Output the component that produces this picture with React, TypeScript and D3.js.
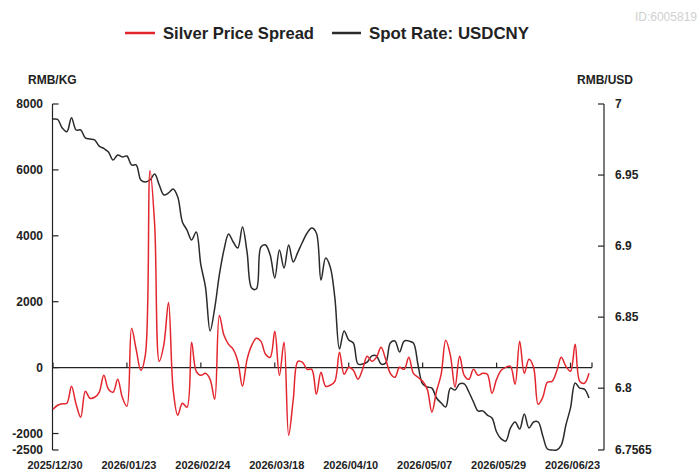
import React from "react";
import * as d3 from "d3";

const tickLabels = ["2025/12/30", "2026/01/23", "2026/02/24", "2026/03/18", "2026/04/10", "2026/05/07", "2026/05/29", "2026/06/23"];
const tickIndex = [0, 16, 32, 48, 64, 80, 96, 112];

const silverSpread = [
  -1264, -1142, -1097, -1082, -567, -1112, -1506, -718, -930, -900,
  -748, -233, -658, -748, -355, -900, -1173, 1191, 555, -82,
  403, 5978, 4342, 191, 706, 1979, -658, -1445, -1082, -1203,
  767, -112, -233, -173, -355, -960, 1585, 979, 706, 555,
  191, -567, 251, 676, 888, 797, 403, 312, 1100, -233,
  767, -2051, -960, 191, 161, -52, -52, -809, -142, -567,
  -536, -415, 464, -203, 9, -82, -355, -52, 342, 191,
  312, 615, 251, -173, -294, 9, -52, 312, -173, -294,
  -415, -658, -1354, -718, -203, 827, 373, -597, 342, -233,
  -355, -52, -233, -173, -203, -779, -355, -82, 9, 39,
  -506, 797, -173, 251, 9, -1112, -900, -445, -415, -112,
  312, 39, -112, 706, -415, -476, -173,
];

const usdcny = [
  6.9894, 6.9891, 6.9831, 6.9805, 6.9903, 6.9817, 6.9817, 6.9761, 6.9754, 6.9747,
  6.9704, 6.9687, 6.9662, 6.9606, 6.9641, 6.9627, 6.9634, 6.9571, 6.9571, 6.9465,
  6.9451, 6.9465, 6.9507, 6.943, 6.936, 6.9374, 6.9402, 6.9346, 6.917, 6.9113,
  6.9043, 6.9099, 6.8867, 6.8712, 6.8403, 6.8564, 6.8797, 6.8973, 6.9085, 6.9029,
  6.8987, 6.9134, 6.8958, 6.8705, 6.8698, 6.8994, 6.9008, 6.8937, 6.8776, 6.8973,
  6.8846, 6.9008, 6.8888, 6.8958, 6.9029, 6.9092, 6.9127, 6.9092, 6.8761, 6.8916,
  6.8853, 6.8635, 6.8276, 6.8403, 6.8339, 6.8318, 6.817, 6.817, 6.8184, 6.8227,
  6.8227, 6.817, 6.8177, 6.8318, 6.8332, 6.8255, 6.8332, 6.8332, 6.8318, 6.8163,
  6.803, 6.8008, 6.8001, 6.7931, 6.7896, 6.7868, 6.8001, 6.7987, 6.803, 6.803,
  6.7973, 6.7903, 6.784, 6.784, 6.7811, 6.779, 6.7692, 6.7643, 6.7628, 6.772,
  6.7762, 6.7713, 6.7818, 6.772, 6.7762, 6.7762, 6.7664, 6.7572, 6.7565, 6.7565,
  6.76, 6.7741, 6.7861, 6.8037, 6.8001, 6.7994, 6.7931,
];

const leftTicks = [8000, 6000, 4000, 2000, 0, -2000, -2500];
const rightTicks = [7, 6.95, 6.9, 6.85, 6.8, 6.7565];

const RED = "#e3262e";
const BLACK = "#2b2b2b";
const FONT = "'Liberation Sans', Arial, sans-serif";

export default function App() {
  const W = 700;
  const H = 471;
  const n = silverSpread.length;
  const x = d3.scaleLinear().domain([0, n - 1]).range([53, 589]);
  const yL = d3.scaleLinear().domain([-2500, 8000]).range([450, 104]);
  const yR = d3.scaleLinear().domain([6.7565, 7]).range([450, 104]);

  const redLine = d3
    .line<number>()
    .x((_, i) => x(i))
    .y((d) => yL(d))
    .curve(d3.curveCatmullRom.alpha(0.5))(silverSpread) as string;
  const blackLine = d3
    .line<number>()
    .x((_, i) => x(i))
    .y((d) => yR(d))
    .curve(d3.curveCatmullRom.alpha(0.5))(usdcny) as string;

  const zeroY = yL(0);
  const axisL = 52.5;
  const axisR = 604;
  const zeroEnd = 592;

  return (
    <svg width={W} height={H} style={{ position: "absolute", left: 0, top: 0, background: "#fff" }} fontFamily={FONT}>
      <text x={697} y={21} textAnchor="end" fontSize={12} fill="#d0d0d0">ID:6005819</text>

      {/* legend */}
      <line x1={125} x2={155} y1={33} y2={33} stroke={RED} strokeWidth={2.5} />
      <text x={163} y={39} fontSize={17} fontWeight="bold" fill="#222" textLength={151} lengthAdjust="spacingAndGlyphs">Silver Price Spread</text>
      <line x1={332} x2={361} y1={33} y2={33} stroke={BLACK} strokeWidth={2.5} />
      <text x={369} y={39} fontSize={17} fontWeight="bold" fill="#222" textLength={160} lengthAdjust="spacingAndGlyphs">Spot Rate: USDCNY</text>

      {/* axis titles */}
      <text x={28} y={84} fontSize={12} fontWeight="bold" fill="#222">RMB/KG</text>
      <text x={577} y={84} fontSize={12} fontWeight="bold" fill="#222">RMB/USD</text>

      {/* left axis */}
      <line x1={axisL} x2={axisL} y1={yL(8000)} y2={yL(-2500)} stroke="#222" strokeWidth={1.2} />
      {leftTicks.map((t) => (
        <g key={"l" + t}>
          <line x1={axisL} x2={axisL + 6} y1={yL(t)} y2={yL(t)} stroke="#222" strokeWidth={1.2} />
          <text x={43} y={yL(t) + 4} textAnchor="end" fontSize={12} fontWeight="bold" fill="#222">{t}</text>
        </g>
      ))}

      {/* right axis */}
      <line x1={axisR} x2={axisR} y1={yR(7)} y2={yR(6.7565)} stroke="#222" strokeWidth={1.2} />
      {rightTicks.map((t) => (
        <g key={"r" + t}>
          <line x1={axisR - 6} x2={axisR} y1={yR(t)} y2={yR(t)} stroke="#222" strokeWidth={1.2} />
          <text x={615} y={yR(t) + 4} textAnchor="start" fontSize={12} fontWeight="bold" fill="#222">{t}</text>
        </g>
      ))}

      {/* zero/category axis */}
      <line x1={axisL} x2={zeroEnd} y1={zeroY} y2={zeroY} stroke="#222" strokeWidth={1.2} />
      {tickIndex.map((ti) => (
        <line key={"t" + ti} x1={x(ti)} x2={x(ti)} y1={zeroY} y2={zeroY - 5} stroke="#222" strokeWidth={1.2} />
      ))}
      <line x1={zeroEnd} x2={zeroEnd} y1={zeroY} y2={zeroY - 5} stroke="#222" strokeWidth={1.2} />
      {tickIndex.map((ti, k) => (
        <text key={"x" + ti} x={x(ti) + 2} y={469} textAnchor="middle" fontSize={11} fontWeight="bold" fill="#222">{tickLabels[k]}</text>
      ))}

      {/* series */}
      <path d={blackLine} fill="none" stroke={BLACK} strokeWidth={1.5} />
      <path d={redLine} fill="none" stroke={RED} strokeWidth={1.5} />
    </svg>
  );
}
